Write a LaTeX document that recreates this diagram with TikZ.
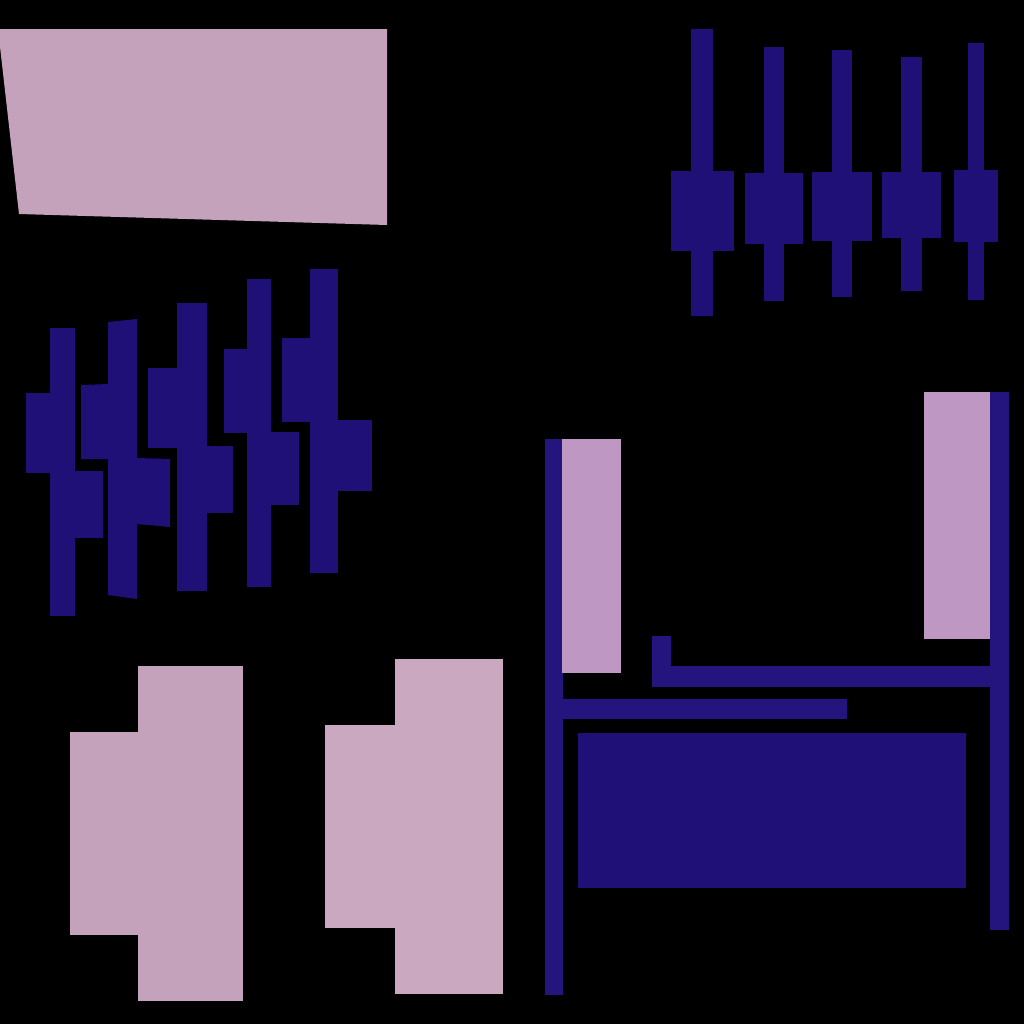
\documentclass[tikz,border=0pt]{standalone}
\usepackage{xcolor}
\usepackage{tikz}
\definecolor{inkblue}{HTML}{1F1078}
\definecolor{railblue}{HTML}{23157D}
\definecolor{dustpink}{HTML}{C4A2BB}
\definecolor{softpink}{HTML}{CAA8C0}
\definecolor{lilac}{HTML}{BE98C2}
\tikzstyle{bar} = [fill=inkblue, draw=none]
\tikzstyle{rail} = [fill=railblue, draw=none]
\tikzstyle{slab} = [fill=dustpink, draw=none]
\tikzstyle{slablight} = [fill=softpink, draw=none]
\tikzstyle{panel} = [fill=lilac, draw=none]

\begin{document}
\begin{tikzpicture}[x=0.01cm, y=-0.01cm]

\fill[black] (0,0) rectangle (1024,1024);
\useasboundingbox (0,0) rectangle (1024,1024);

% top left slab
\fill[slab] (-2,29) -- (387,29) -- (387,225) -- (19,214) -- cycle;

% left cluster
\fill[bar] (50,328) rectangle (75,616);
\fill[bar] (26,393) rectangle (50,473);
\fill[bar] (75,471) rectangle (103,538);

\fill[bar] (108,322) -- (137,319) -- (137,599) -- (108,595) -- cycle;
\fill[bar] (81,385) -- (109,384) -- (109,459) -- (81,459) -- cycle;
\fill[bar] (137,458) -- (170,459) -- (170,527) -- (137,524) -- cycle;

\fill[bar] (177,303) rectangle (207,591);
\fill[bar] (148,368) rectangle (177,448);
\fill[bar] (207,446) rectangle (233,513);

\fill[bar] (247,279) rectangle (271,587);
\fill[bar] (224,349) rectangle (247,433);
\fill[bar] (271,432) rectangle (299,505);

\fill[bar] (310,269) rectangle (338,573);
\fill[bar] (282,338) rectangle (310,422);
\fill[bar] (338,420) rectangle (372,491);

% top right cluster
\fill[bar] (691,29) rectangle (713,316);
\fill[bar] (671,171) rectangle (734,251);
\fill[bar] (764,47) rectangle (784,301);
\fill[bar] (745,173) rectangle (803,244);
\fill[bar] (832,50) rectangle (852,297);
\fill[bar] (812,172) rectangle (872,241);
\fill[bar] (901,57) rectangle (922,291);
\fill[bar] (882,172) rectangle (941,238);
\fill[bar] (968,43) rectangle (984,300);
\fill[bar] (954,170) rectangle (998,242);

% bottom left slabs
\fill[slab] (138,666) rectangle (243,1001);
\fill[slab] (70,732) rectangle (138,935);
\fill[slablight] (395,659) rectangle (503,994);
\fill[slablight] (325,725) rectangle (395,928);

% bottom right frame
\fill[rail] (545,439) rectangle (563,995);
\fill[rail] (990,392) rectangle (1009,930);
\fill[panel] (562,439) rectangle (621,673);
\fill[panel] (924,392) rectangle (990,639);
\fill[rail] (652,636) rectangle (671,687);
\fill[rail] (652,666) rectangle (990,687);
\fill[rail] (563,699) rectangle (847,719);
\fill[bar] (578,733) rectangle (966,888);

\end{tikzpicture}
\end{document}
